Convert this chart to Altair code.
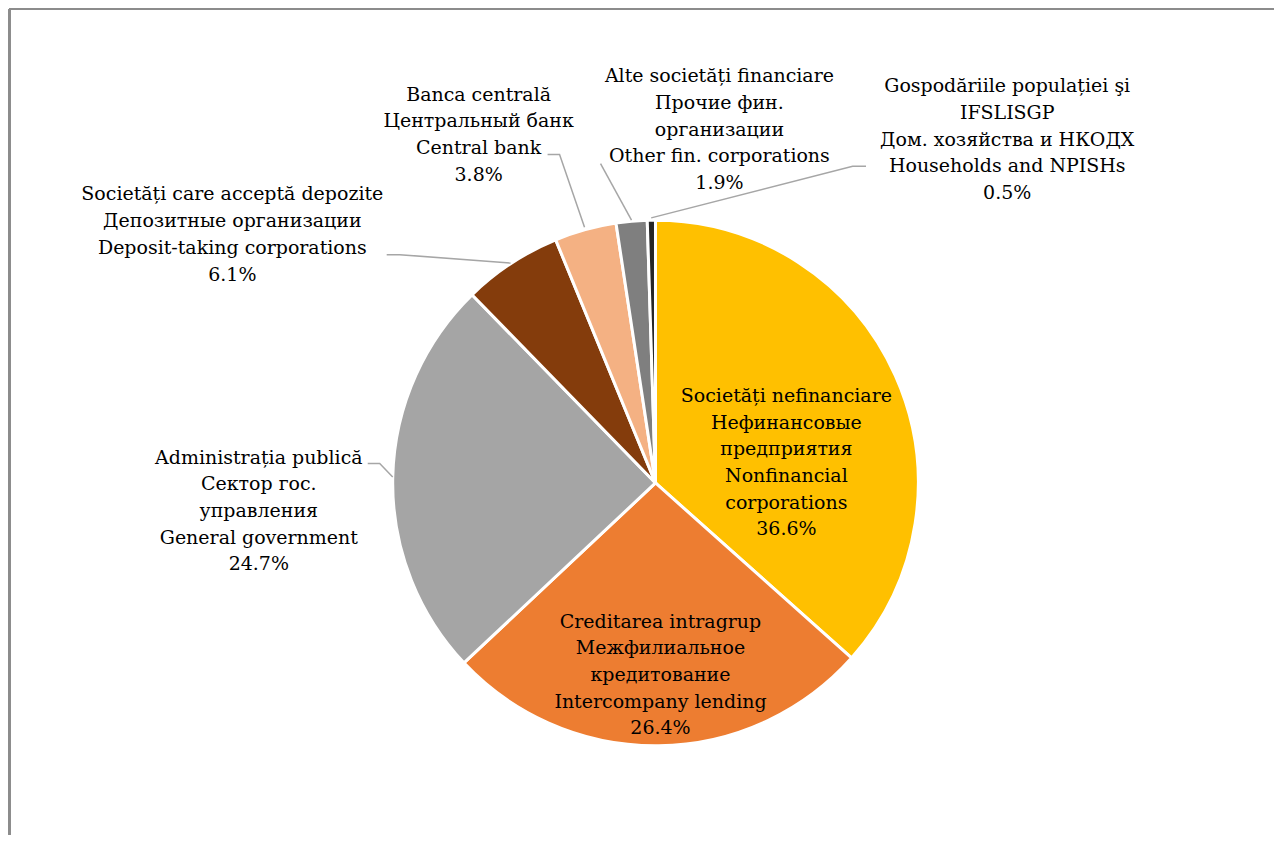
import altair as alt
import pandas as pd

# ---- data ----
sectors = [
    "Societăți nefinanciare\nНефинансовые\nпредприятия\nNonfinancial\ncorporations",
    "Creditarea intragrup\nМежфилиальное\nкредитование\nIntercompany lending",
    "Administrația publică\nСектор гос.\nуправления\nGeneral government",
    "Societăți care acceptă depozite\nДепозитные организации\nDeposit-taking corporations",
    "Banca centrală\nЦентральный банк\nCentral bank",
    "Alte societăți financiare\nПрочие фин.\nорганизации\nOther fin. corporations",
    "Gospodăriile populației şi\nIFSLISGP\nДом. хозяйства и НКОДХ\nHouseholds and NPISHs",
]
shares = [36.6, 26.4, 24.7, 6.1, 3.8, 1.9, 0.5]
colors = ["#FFC000", "#ED7D31", "#A5A5A5", "#843C0C", "#F4B183", "#7F7F7F", "#262626"]

# ---- layout (plot-area pixels; y = first line of each label) ----
W, H = 1267, 826
CX, CY, R = 648, 474, 263
label_x = [779, 653, 251, 224.5, 471, 712, 1000]
label_y = [387, 612.7, 448.7, 185.3, 85.3, 67, 77]
leaders = {
    2: [(360, 454.5), (372, 454.5), (385, 468)],
    3: [(379, 245.5), (392, 245.5), (503, 254)],
    4: [(540, 145.3), (552, 145.3), (577, 218)],
    5: [(593, 154.5), (624, 211)],
    6: [(643.7, 208.7), (845.3, 157), (858.7, 157)],
}

df = pd.DataFrame({
    "sector": sectors,
    "share": shares,
    "order": list(range(len(sectors))),
    "label": [s + "\n" + f"{v:.1f}%" for s, v in zip(sectors, shares)],
    "lx": label_x,
    "ly": label_y,
})

lrows = []
for i, pts in leaders.items():
    for k, (x, y) in enumerate(pts):
        lrows.append({"id": i, "k": k, "x": x, "y": y})
ldf = pd.DataFrame(lrows)

pie = alt.Chart(df).mark_arc(outerRadius=R, stroke="white", strokeWidth=3).encode(
    theta=alt.Theta("share:Q", stack=True),
    color=alt.Color("sector:N", scale=alt.Scale(domain=sectors, range=colors), legend=None),
    order=alt.Order("order:Q"),
    x=alt.value(CX),
    y=alt.value(CY),
)

lines = alt.Chart(ldf).mark_line(color="#A6A6A6", strokeWidth=1.5).encode(
    x=alt.X("x:Q", scale=None),
    y=alt.Y("y:Q", scale=None),
    detail="id:N",
    order="k:Q",
)

labels = alt.Chart(df).mark_text(
    font="DejaVu Serif", fontSize=19, lineBreak="\n", lineHeight=26.7,
    align="center", baseline="middle", color="#000000",
).encode(
    x=alt.X("lx:Q", scale=None),
    y=alt.Y("ly:Q", scale=None),
    text="label:N",
)

frame_top = alt.Chart(df).mark_rule(color="#8C8C8C", strokeWidth=1.5).encode(
    x=alt.value(1), x2=alt.value(W), y=alt.value(0)
)
frame_left = alt.Chart(df).mark_rule(color="#8C8C8C", strokeWidth=2).encode(
    x=alt.value(1.5), y=alt.value(0), y2=alt.value(H)
)

chart = alt.layer(frame_top, frame_left, pie, lines, labels).properties(
    width=W, height=H, padding=0
).configure_view(stroke=None)

chart.save("out.html", embed_options={"renderer": "svg", "actions": False})
